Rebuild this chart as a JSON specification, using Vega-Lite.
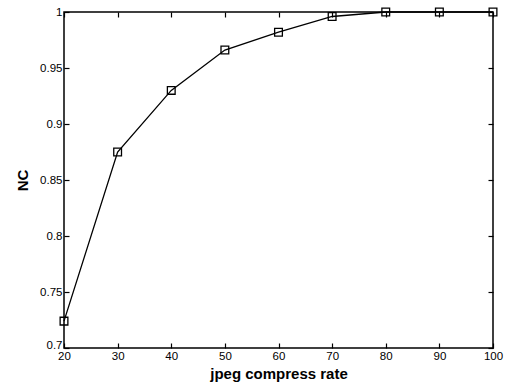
{
  "$schema": "https://vega.github.io/schema/vega-lite/v6.json",
  "width": 429,
  "height": 336,
  "autosize": {"type": "none"},
  "padding": {"left": 64, "top": 12, "right": 16, "bottom": 43},
  "background": "white",
  "config": {
    "view": {"stroke": "black", "strokeWidth": 1.5},
    "axis": {
      "domain": false,
      "grid": false,
      "labelFlush": false,
      "tickColor": "black",
      "tickSize": -5,
      "tickWidth": 1.2,
      "labelFont": "Liberation Sans",
      "labelFontSize": 11.5,
      "labelColor": "black",
      "titleFont": "Liberation Sans",
      "titleFontSize": 15,
      "titleFontWeight": "bold",
      "titleColor": "black"
    }
  },
  "data": {
    "values": [
      {"rate": 20, "nc": 0.724},
      {"rate": 30, "nc": 0.875},
      {"rate": 40, "nc": 0.93},
      {"rate": 50, "nc": 0.966},
      {"rate": 60, "nc": 0.982},
      {"rate": 70, "nc": 0.996},
      {"rate": 80, "nc": 1.0},
      {"rate": 90, "nc": 1.0},
      {"rate": 100, "nc": 1.0}
    ]
  },
  "layer": [
    {
      "mark": {"type": "line", "color": "black", "strokeWidth": 1.3},
      "encoding": {
        "x": {"field": "rate", "type": "quantitative", "scale": {"domain": [20, 100], "nice": false},
              "axis": {"orient": "bottom", "values": [20,30,40,50,60,70,80,90,100], "labelPadding": 7, "title": "jpeg compress rate", "titlePadding": 5}},
        "y": {"field": "nc", "type": "quantitative", "scale": {"domain": [0.7, 1], "nice": false, "zero": false},
              "axis": {"orient": "left", "values": [0.7,0.75,0.8,0.85,0.9,0.95,1], "format": ".2~f", "labelPadding": 7, "labelBaseline": {"expr": "datum.value < 0.71 ? 'alphabetic' : 'middle'"}, "title": "NC", "titlePadding": 9}}
      }
    },
    {
      "mark": {"type": "point", "shape": "square", "size": 60, "color": "black", "filled": false, "strokeWidth": 1.3, "opacity": 1},
      "encoding": {
        "x": {"field": "rate", "type": "quantitative", "scale": {"domain": [20, 100], "nice": false},
              "axis": {"orient": "top", "values": [20,30,40,50,60,70,80,90,100], "labels": false, "title": null}},
        "y": {"field": "nc", "type": "quantitative", "scale": {"domain": [0.7, 1], "nice": false, "zero": false},
              "axis": {"orient": "right", "values": [0.7,0.75,0.8,0.85,0.9,0.95,1], "labels": false, "title": null}}
      }
    }
  ],
  "resolve": {"axis": {"x": "independent", "y": "independent"}}
}
